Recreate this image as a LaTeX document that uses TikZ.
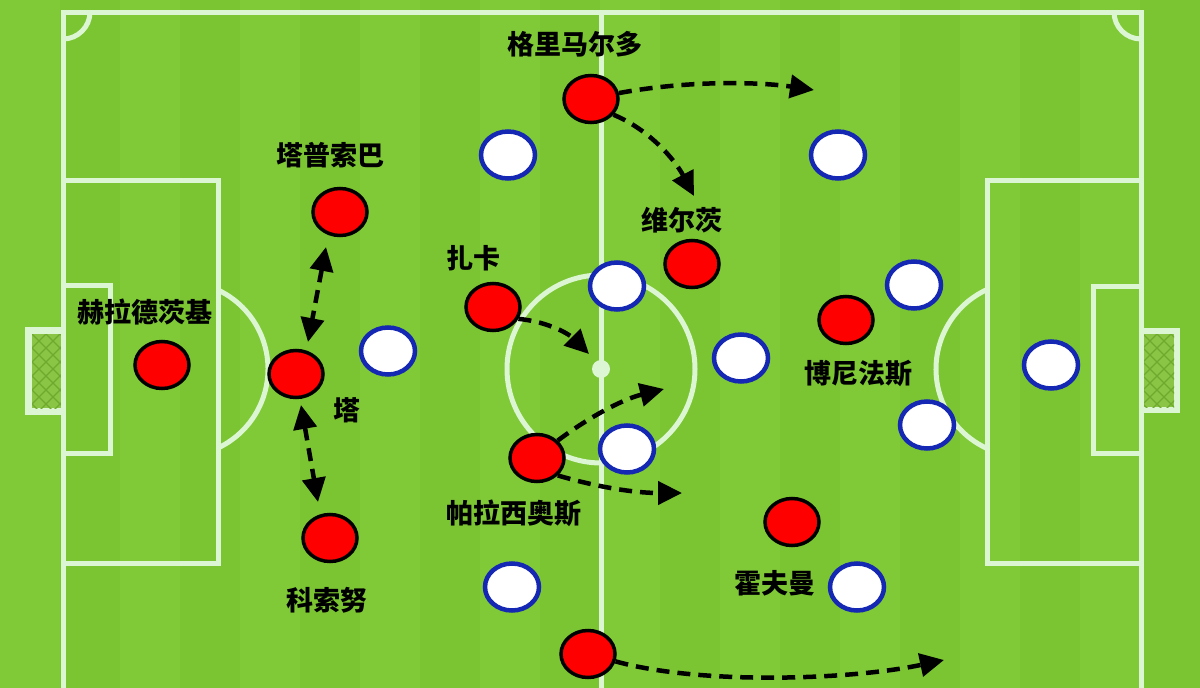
\documentclass[tikz,border=0pt]{standalone}
\usepackage{fontspec}
\newfontfamily\cjk{Noto Sans CJK SC}
\usetikzlibrary{shapes.geometric,arrows.meta}
\definecolor{grass}{HTML}{7BC532}
\definecolor{grassL}{HTML}{80C937}
\definecolor{chalk}{HTML}{DCF5D2}
\definecolor{netg}{HTML}{8BC545}
\definecolor{netl}{HTML}{6DAA2E}
\definecolor{kitblue}{HTML}{1428B4}
\begin{document}
\begin{tikzpicture}[x=1pt,y=-1pt,
 pitch/.style={draw=chalk,line width=5pt},
 redp/.style={ellipse,draw=black,fill=red,line width=3.5pt,minimum width=54pt,minimum height=47pt,inner sep=0pt},
 whitep/.style={ellipse,draw=kitblue,fill=white,line width=4.5pt,minimum width=54pt,minimum height=47pt,inner sep=0pt},
 lbl/.style={font=\cjk\bfseries\fontsize{27}{30}\selectfont,text=black,inner sep=0pt},
 run/.style={draw=black,line width=4.5pt,dash pattern=on 13pt off 8pt,-{Triangle[length=24pt,width=23pt]}},
 runboth/.style={draw=black,line width=4.5pt,dash pattern=on 13pt off 8pt,{Triangle[length=24pt,width=23pt]}-{Triangle[length=24pt,width=23pt]}}]
\useasboundingbox (0,0) rectangle (1200,688);
% grass
\fill[grass] (0,0) rectangle (1200,688);
\foreach \x in {0,120,...,1080} \fill[grassL] (\x,0) rectangle ++(60,688);
% goals
\fill[chalk] (25,327) rectangle (63,415);
\fill[netg] (32,334) rectangle (61,408);
\begin{scope}
\clip (32,334) rectangle (61,408);
\foreach \i in {-42,-28,...,112} {
  \draw[netl,line width=1.2pt] (32,334+\i) -- ++(30,30);
  \draw[netl,line width=1.2pt] (32,334+\i) -- ++(30,-30);
}
\end{scope}
\fill[chalk] (1141,328) rectangle (1180,413);
\fill[netg] (1143,334) rectangle (1174,407);
\begin{scope}
\clip (1143,334) rectangle (1174,407);
\foreach \i in {-42,-28,...,112} {
  \draw[netl,line width=1.2pt] (1143,334+\i) -- ++(32,32);
  \draw[netl,line width=1.2pt] (1143,334+\i) -- ++(32,-32);
}
\end{scope}
% pitch lines
\draw[pitch] (63,690) -- (63,12) -- (1141,12) -- (1141,690);
\draw[pitch] (601,12) -- (601,690);
\draw[pitch] (63,180) -- (218,180) -- (218,563) -- (63,563);
\draw[pitch] (63,285) -- (110,285) -- (110,453) -- (63,453);
\draw[pitch] (1141,180) -- (987,180) -- (987,563) -- (1141,563);
\draw[pitch] (1141,286) -- (1093,286) -- (1093,453) -- (1141,453);
\draw[pitch] (601,369) circle (94);
\fill[chalk] (601,369) circle (9);
\draw[pitch] (180.6,369) ++(-64.7:87.4) arc[start angle=-64.7,end angle=64.7,radius=87.4];
\draw[pitch] (1023.4,369) ++(115.3:87.4) arc[start angle=115.3,end angle=244.7,radius=87.4];
\draw[pitch] (90,12) arc[start angle=0,end angle=90,radius=27];
\draw[pitch] (1114,12) arc[start angle=180,end angle=90,radius=27];
% white players
\node[whitep] (w1) at (508,155) {};
\node[whitep] (w2) at (838,155) {};
\node[whitep] (w3) at (617,286) {};
\node[whitep] (w4) at (388,351) {};
\node[whitep] (w5) at (741,358) {};
\node[whitep] (w6) at (914,285) {};
\node[whitep] (w7) at (1051,365) {};
\node[whitep] (w8) at (927,425) {};
\node[whitep] (w9) at (627,449) {};
\node[whitep] (w10) at (512,587) {};
\node[whitep] (w11) at (857,587) {};
% red players
\node[redp] (gr) at (591,99) {};
\node[redp] (tp) at (340,212) {};
\node[redp] (hr) at (162,365) {};
\node[redp] (ta) at (296,374) {};
\node[redp] (ks) at (330,538) {};
\node[redp] (zk) at (493,307) {};
\node[redp] (wz) at (692,264) {};
\node[redp] (pa) at (537,458) {};
\node[redp] (bn) at (846,320) {};
\node[redp] (hf) at (792,522) {};
\node[redp] (bt) at (588,654) {};
% labels
\node[lbl] (lgr) at (575,44) {格里马尔多};
\node[lbl] (ltp) at (330,155) {塔普索巴};
\node[lbl] (lhr) at (145,312) {赫拉德茨基};
\node[lbl] (lta) at (347,410) {塔};
\node[lbl] (lks) at (327,600) {科索努};
\node[lbl] (lzk) at (473,258) {扎卡};
\node[lbl] (lwz) at (682,220) {维尔茨};
\node[lbl] (lpa) at (514,513) {帕拉西奥斯};
\node[lbl] (lbn) at (858,373) {博尼法斯};
\node[lbl] (lhf) at (775,583) {霍夫曼};
% arrow ends
\coordinate (t1) at (814,90);
\coordinate (t2) at (694,196);
\coordinate (a1) at (326,247);
\coordinate (a2) at (308,342);
\coordinate (b1) at (301,405);
\coordinate (b2) at (318,502);
\coordinate (t5) at (589,354);
\coordinate (t6) at (664,389);
\coordinate (t7) at (682,493);
\coordinate (t8) at (944,660);
% runs
\draw[run] (gr.12) .. controls (690,80) and (760,82) .. (t1);
\draw[run] (gr.-35) .. controls (650,130) and (675,160) .. (t2);
\draw[runboth] (a1) -- (a2);
\draw[runboth] (b1) -- (b2);
\draw[run] (zk.-25) .. controls (550,322) and (570,335) .. (t5);
\draw[run] (pa.40) .. controls (585,420) and (620,400) .. (t6);
\draw[run] (pa.-40) .. controls (590,485) and (630,493) .. (t7);
\draw[run] (bt.-15) .. controls (700,685) and (850,680) .. (t8);
\end{tikzpicture}
\end{document}
